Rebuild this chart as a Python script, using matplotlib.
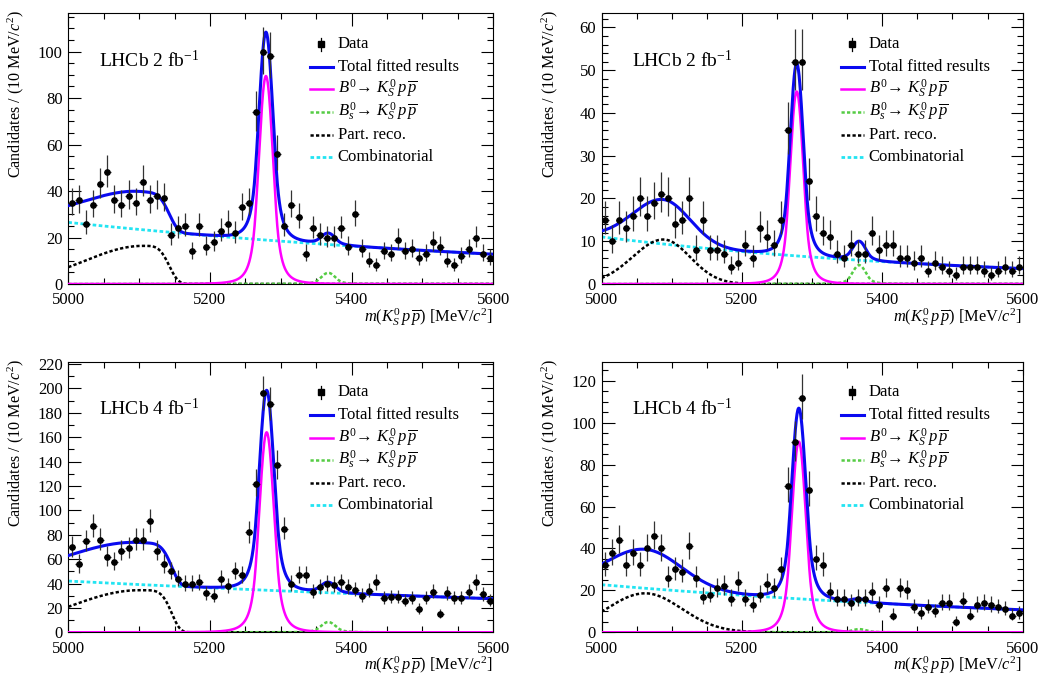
import matplotlib

matplotlib.use("Agg")

import matplotlib.pyplot as plt
import numpy as np
from matplotlib.ticker import MultipleLocator

plt.rcParams["font.family"] = ["Liberation Serif", "DejaVu Serif"]
plt.rcParams["mathtext.fontset"] = "custom"
plt.rcParams["mathtext.rm"] = "Liberation Serif"
plt.rcParams["mathtext.it"] = "Liberation Serif:italic"
plt.rcParams["mathtext.bf"] = "Liberation Serif:bold"

# 10 MeV bins between 5000 and 5600
bin_centres = np.arange(5005, 5600, 10)

counts_top_left = [
    35, 36, 26, 34, 43, 48, 36, 34, 38, 35,
    44, 36, 38, 37, 21, 24, 25, 14, 25, 16,
    18, 23, 26, 22, 33, 35, 74, 100, 98, 56,
    25, 34, 29, 13, 24, 21, 20, 20, 24, 16,
    30, 15, 10, 8, 14, 13, 19, 14, 15, 11,
    13, 18, 16, 10, 8, 12, 15, 20, 13, 11,
]
counts_top_right = [
    15, 10, 15, 13, 16, 20, 16, 19, 21, 20,
    14, 15, 20, 8, 15, 8, 8, 7, 4, 5,
    9, 6, 13, 11, 9, 15, 36, 52, 52, 24,
    16, 12, 11, 7, 6, 9, 7, 7, 12, 8,
    9, 9, 6, 6, 5, 6, 3, 5, 4, 3,
    2, 4, 4, 4, 3, 2, 3, 4, 3, 4,
]
counts_bottom_left = [
    70, 56, 75, 87, 76, 62, 58, 67, 69, 76,
    76, 91, 67, 56, 50, 44, 40, 40, 41, 32,
    30, 44, 38, 50, 47, 82, 122, 196, 187, 137,
    85, 40, 47, 47, 33, 37, 40, 39, 41, 37,
    35, 30, 34, 41, 28, 29, 29, 26, 28, 19,
    28, 33, 15, 32, 28, 28, 33, 41, 31, 26,
]
counts_bottom_right = [
    32, 38, 44, 32, 38, 32, 40, 46, 40, 26,
    30, 29, 41, 26, 17, 18, 21, 22, 16, 24,
    16, 13, 18, 23, 21, 30, 70, 91, 112, 68,
    35, 32, 19, 16, 16, 14, 16, 16, 19, 13,
    21, 8, 21, 20, 12, 9, 12, 10, 14, 14,
    5, 15, 8, 13, 14, 13, 12, 11, 8, 9,
]
panel_counts = [counts_top_left, counts_top_right, counts_bottom_left, counts_bottom_right]
panel_lumi = ["2", "2", "4", "4"]

# fitted components
sig_mean = [5279, 5278, 5280, 5281]
sig_sigma = [10.0, 9.5, 10.4, 10.1]
sig_peak = [89.5, 45.0, 164.0, 91.0]
bs_mean = 5367
bs_peak = [4.8, 4.4, 8.4, 1.5]
cb_alpha, cb_n = 1.5, 4.0
pr_mode = [5105, 5088, 5100, 5062]
pr_peak = [16.4, 10.4, 34.5, 18.6]
pr_sigma_left = [82, 44, 100, 55]
pr_sigma_right = [34, 38, 42, 52]
pr_power_right = [4, 2, 5, 2]
comb_at_5000 = [26.5, 11.0, 42.0, 22.7]
comb_at_5600 = [12.8, 3.6, 27.5, 10.7]

y_top = [116.5, 63.3, 222, 129.2]
y_major = [20, 10, 20, 20]
y_minor = [5, 2, 10, 5]


def crystal_ball(m, mean, sigma):
    t = np.abs((m - mean) / sigma)
    a = (cb_n / cb_alpha) ** cb_n * np.exp(-cb_alpha**2 / 2)
    b = cb_n / cb_alpha - cb_alpha
    return np.where(t < cb_alpha, np.exp(-t**2 / 2), a * (b + t) ** (-cb_n))


def part_reco(m, i):
    d = m - pr_mode[i]
    left = np.exp(-0.5 * (d / pr_sigma_left[i]) ** 2)
    right = np.exp(-0.5 * (np.abs(d) / pr_sigma_right[i]) ** pr_power_right[i])
    return pr_peak[i] * np.where(d < 0, left, right)


def combinatorial(m, i):
    slope = np.log(comb_at_5600[i] / comb_at_5000[i]) / 600.0
    return comb_at_5000[i] * np.exp(slope * (m - 5000))


BLUE = "#0a0af0"
MAGENTA = "#ff00ff"
GREEN = "#55cc44"
CYAN = "#22e4f2"
DASH = (0, (1.3, 0.9))

sig_label = r"$B^0\!\rightarrow\, K^0_S\,p\,\overline{p}$"
bs_label = r"$B^0_s\!\rightarrow\, K^0_S\,p\,\overline{p}$"

fig = plt.figure(figsize=(10.48, 6.75), dpi=100)
rects = [
    (0.0652, 0.5793, 0.4055, 0.401),
    (0.5741, 0.5793, 0.4017, 0.401),
    (0.0652, 0.0633, 0.4055, 0.401),
    (0.5741, 0.0633, 0.4017, 0.401),
]

m = np.linspace(5000, 5600, 1201)

for i, rect in enumerate(rects):
    ax = fig.add_axes(rect)
    counts = np.array(panel_counts[i], dtype=float)

    sig = sig_peak[i] * crystal_ball(m, sig_mean[i], sig_sigma[i])
    bs = bs_peak[i] * crystal_ball(m, bs_mean, sig_sigma[i])
    pr = part_reco(m, i)
    comb = combinatorial(m, i)
    total = sig + bs + pr + comb

    ax.plot(m, comb, color=CYAN, lw=2.0, ls=DASH, zorder=2)
    ax.plot(m, pr, color="black", lw=1.8, ls=DASH, zorder=2)
    ax.plot(m, bs, color=GREEN, lw=1.8, ls=DASH, zorder=2)
    ax.plot(m, sig, color=MAGENTA, lw=1.8, zorder=3)
    ax.plot(m, total, color=BLUE, lw=2.2, zorder=4)

    err_lo = np.sqrt(counts + 0.25) - 0.5
    err_hi = np.sqrt(counts + 0.25) + 0.5
    ax.errorbar(
        bin_centres, counts, yerr=[err_lo, err_hi], xerr=5, fmt="o",
        color="black", ecolor="#333333", ms=3.8, elinewidth=0.9, capsize=0,
        zorder=5,
    )

    ax.set_xlim(5000, 5600)
    ax.set_ylim(0, y_top[i])
    ax.xaxis.set_major_locator(MultipleLocator(200))
    ax.xaxis.set_minor_locator(MultipleLocator(50))
    ax.yaxis.set_major_locator(MultipleLocator(y_major[i]))
    ax.yaxis.set_minor_locator(MultipleLocator(y_minor[i]))
    ax.tick_params(which="both", direction="in", top=True, right=True, labelsize=12)
    ax.tick_params(which="major", length=9, width=0.8)
    ax.tick_params(which="minor", length=4.5, width=0.8)
    ax.tick_params(axis="x", pad=6)
    ax.tick_params(axis="y", pad=4)
    for spine in ax.spines.values():
        spine.set_linewidth(0.8)

    ax.text(-0.123, 1.01, r"Candidates / (10 MeV/$c^2$)", rotation=90,
            ha="center", va="top", fontsize=11.6, transform=ax.transAxes)
    ax.text(1.0, -0.082, r"$m(K^0_S\,p\,\overline{p})$ [MeV/$c^2$]",
            ha="right", va="top", fontsize=11.8, transform=ax.transAxes)
    ax.text(0.072, 0.803, "LHCb " + panel_lumi[i] + r" fb$^{\mathrm{-1}}$",
            fontsize=14, transform=ax.transAxes)

    # legend drawn by hand, ROOT style
    x0, x1, xt = 0.568, 0.623, 0.634
    xm = 0.5 * (x0 + x1)
    rows = 0.886 - 0.0835 * np.arange(6)
    tr = ax.transAxes
    ax.plot([xm, xm], [rows[0] - 0.024, rows[0] + 0.024], color="black",
            lw=0.9, transform=tr, clip_on=False)
    ax.plot([xm], [rows[0]], "s", color="black", ms=4.5, transform=tr, clip_on=False)
    ax.plot([x0, x1], [rows[1]] * 2, color=BLUE, lw=2.2, transform=tr)
    ax.plot([x0, x1], [rows[2]] * 2, color=MAGENTA, lw=1.8, transform=tr)
    ax.plot([x0, x1], [rows[3]] * 2, color=GREEN, lw=1.8, ls=DASH, transform=tr)
    ax.plot([x0, x1], [rows[4]] * 2, color="black", lw=1.8, ls=DASH, transform=tr)
    ax.plot([x0, x1], [rows[5]] * 2, color=CYAN, lw=2.0, ls=DASH, transform=tr)
    labels = ["Data", "Total fitted results", sig_label, bs_label,
              "Part. reco.", "Combinatorial"]
    for y, label in zip(rows, labels):
        ax.text(xt, y, label, fontsize=12, va="center", ha="left", transform=tr)

fig.savefig("out.png", dpi=100)
plt.close(fig)
